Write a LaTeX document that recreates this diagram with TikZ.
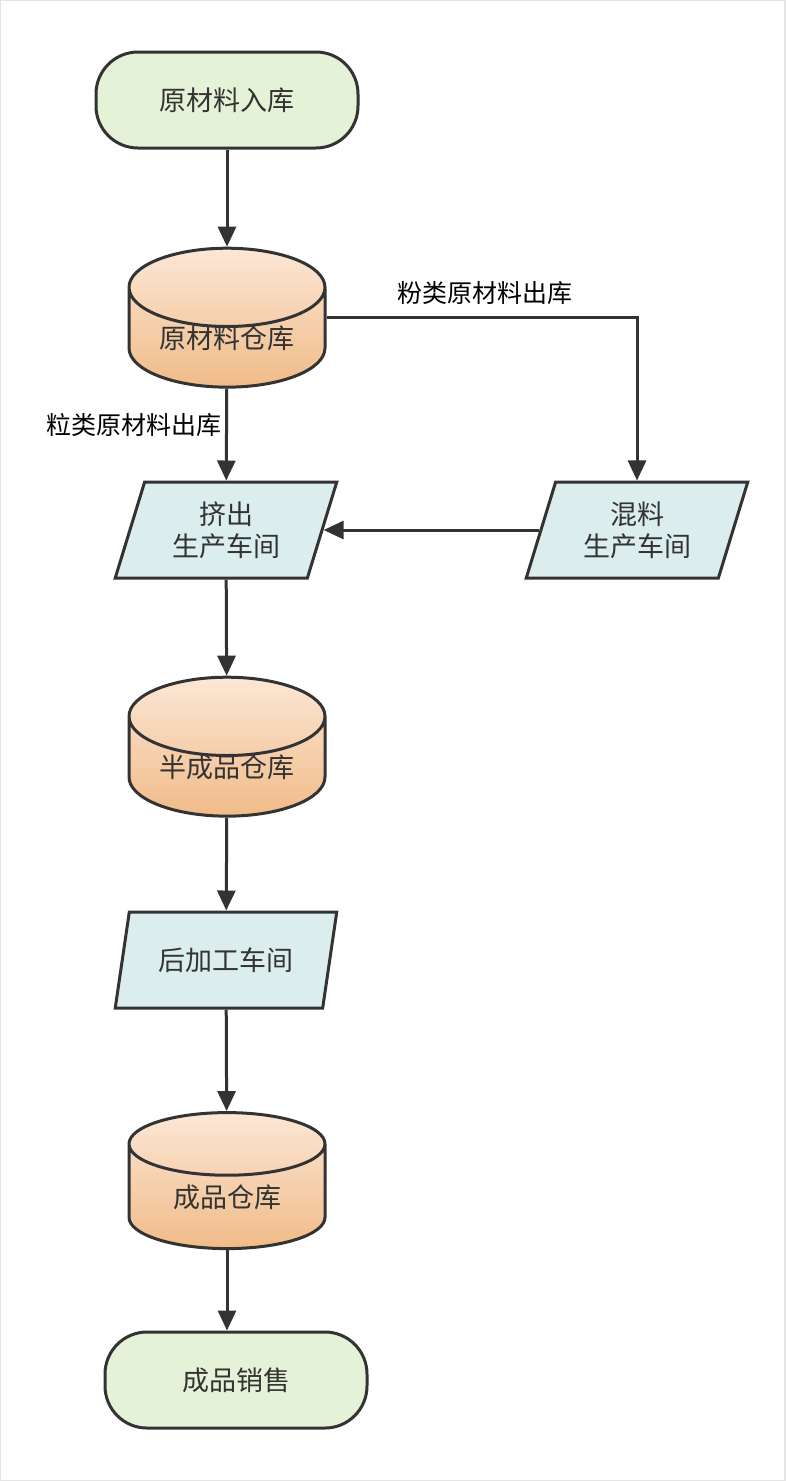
\documentclass[tikz,border=0pt]{standalone}
\usepackage{fontspec}
\setmainfont{Noto Sans CJK SC}
\usetikzlibrary{shapes.geometric,arrows.meta}
\definecolor{linegray}{HTML}{333333}
\definecolor{termgreen}{HTML}{E4F2D8}
\definecolor{storetop}{HTML}{FCE7D6}
\definecolor{storebot}{HTML}{F0BB88}
\definecolor{workblue}{HTML}{DCEDEE}
\tikzset{
  terminal/.style={draw=linegray, line width=3pt, fill=termgreen, rounded corners=42pt,
    minimum width=262pt, minimum height=96pt, font=\fontsize{27}{32}\selectfont, text=linegray},
  store/.style={cylinder, shape border rotate=90, aspect=0.58, inner sep=0pt,
    text height=20pt, text depth=0pt, draw=linegray, line width=3pt,
    top color=storetop, bottom color=storebot, minimum width=196pt, minimum height=136pt,
    font=\fontsize{27}{32}\selectfont, text=linegray},
  workshop/.style={trapezium, trapezium left angle=72, trapezium right angle=108,
    trapezium stretches=true, draw=linegray, line width=3pt, fill=workblue,
    minimum width=222pt, minimum height=96pt, align=center,
    font=\fontsize{27}{32}\selectfont, text=linegray},
  flow/.style={draw=linegray, line width=3pt, -{Triangle[length=20pt,width=18pt]}},
  tag/.style={font=\fontsize{25}{30}\selectfont, text=black}
}
\begin{document}
\begin{tikzpicture}[x=1pt, y=-1pt]
  \useasboundingbox (0,0) rectangle (785,1481);
  \draw[gray!20, line width=2pt] (0,0) rectangle (785,1481);

  \node[terminal] (start) at (227,100) {原材料入库};
  \node[store] (raw) at (227,338) {原材料仓库};
  \node[workshop] (ext) at (226,530) {挤出\\生产车间};
  \node[workshop] (mix) at (637,530) {混料\\生产车间};
  \node[store] (semi) at (227,767) {半成品仓库};
  \node[workshop] (post) at (226,960) {后加工车间};
  \node[store] (fin) at (227,1197) {成品仓库};
  \node[terminal] (sale) at (236,1380) {成品销售};

  \draw[flow] (start) -- (raw);
  \draw[flow] (raw.shape center -| raw.east) -| node[tag, above, yshift=8pt, pos=0.255] {粉类原材料出库} (mix.north);
  \draw[flow] (raw) -- node[tag, left, pos=0.4] {粒类原材料出库} (ext);
  \draw[flow] (mix.west) -- (ext.east);
  \draw[flow] (ext) -- (semi);
  \draw[flow] (semi) -- (post);
  \draw[flow] (post) -- (fin);
  \draw[flow] (fin.south) -- (fin.south |- sale.north);
\end{tikzpicture}
\end{document}
